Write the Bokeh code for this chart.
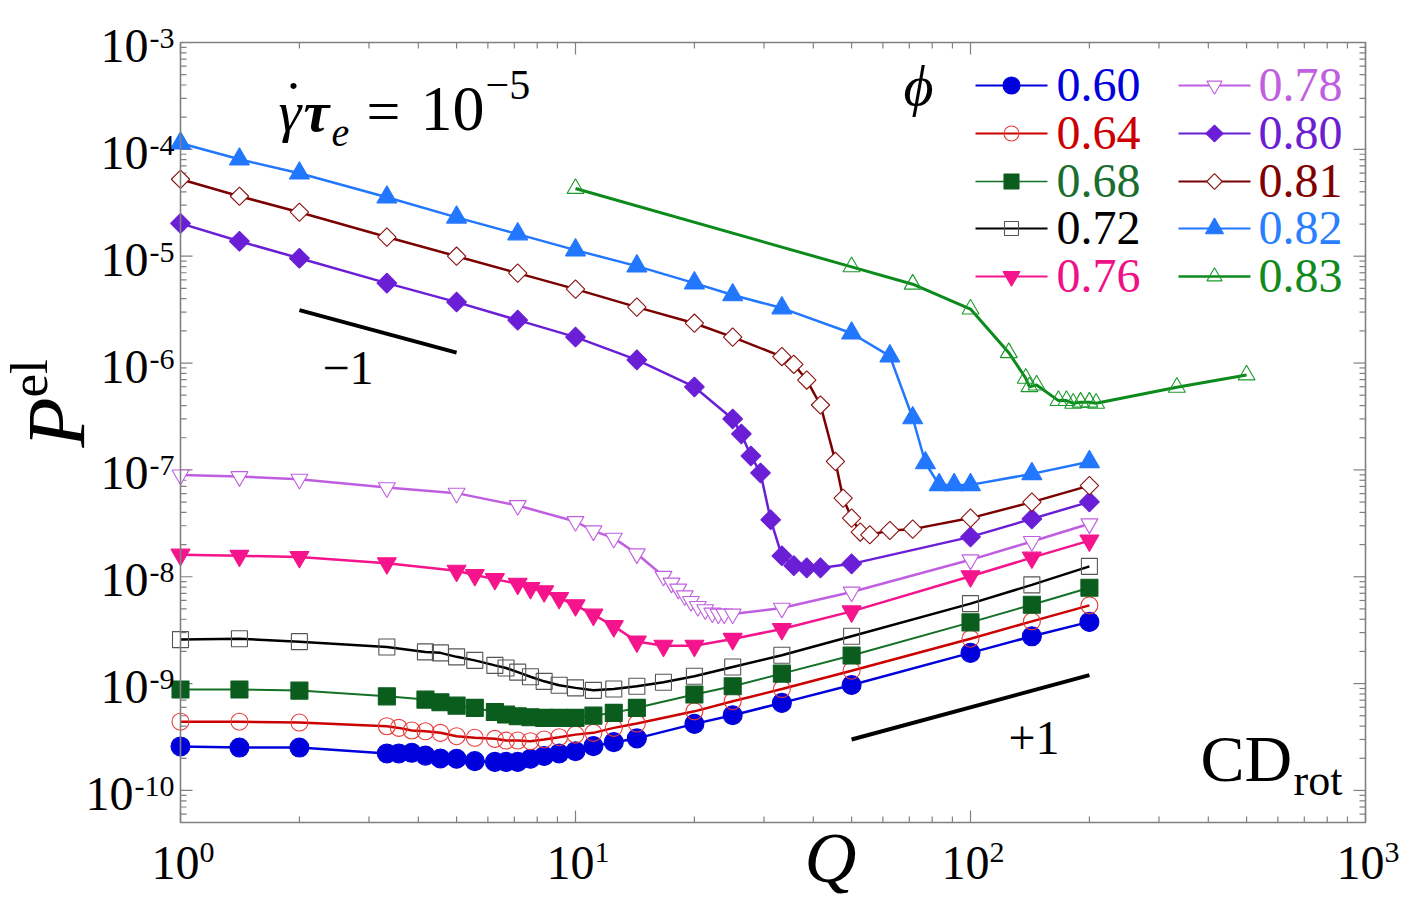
import math

from bokeh.embed import file_html
from bokeh.models import BoxAnnotation, Label, Range1d
from bokeh.plotting import figure
from bokeh.resources import INLINE

# ---------------------------------------------------------------- data
phi_labels = ["0.60", "0.64", "0.68", "0.72", "0.76", "0.78", "0.80", "0.81", "0.82", "0.83"]

q060 = [1, 1.41, 2, 3.33, 3.57, 3.85, 4.17, 4.55, 5, 5.56, 6.25, 6.67, 7.14, 7.69, 8.33,
        9.09, 10, 11.1, 12.5, 14.3, 20, 25, 33.3, 50, 100, 143, 200]
p060 = [2.58e-10, 2.52e-10, 2.52e-10, 2.22e-10, 2.22e-10, 2.25e-10, 2.12e-10, 1.99e-10,
        1.98e-10, 1.88e-10, 1.85e-10, 1.85e-10, 1.85e-10, 1.98e-10, 2.1e-10, 2.22e-10,
        2.33e-10, 2.6e-10, 2.83e-10, 3.07e-10, 4.2e-10, 5.06e-10, 6.6e-10, 9.7e-10,
        1.94e-9, 2.77e-9, 3.78e-9]

q064 = [1, 1.41, 2, 3.33, 3.57, 3.85, 4.17, 4.55, 5, 5.56, 6.25, 6.67, 7.14, 7.69, 8.33,
        9.09, 10, 11.1, 12.5, 14.3, 20, 25, 33.3, 50, 100, 143, 200]
p064 = [4.4e-10, 4.4e-10, 4.32e-10, 3.99e-10, 3.85e-10, 3.64e-10, 3.58e-10, 3.46e-10,
        3.22e-10, 3.11e-10, 3.04e-10, 2.93e-10, 2.93e-10, 2.89e-10, 3.0e-10, 3.15e-10,
        3.33e-10, 3.46e-10, 3.85e-10, 4.23e-10, 5.5e-10, 6.84e-10, 8.9e-10, 1.32e-9,
        2.63e-9, 3.82e-9, 5.4e-9]

q068 = [1, 1.41, 2, 3.33, 4.17, 4.55, 5, 5.56, 6.25, 6.67, 7.14, 7.69, 8.33, 9.09, 10,
        11.1, 12.5, 14.3, 20, 25, 33.3, 50, 100, 143, 200]
p068 = [8.8e-10, 8.8e-10, 8.6e-10, 7.6e-10, 7.08e-10, 6.68e-10, 6.22e-10, 5.93e-10,
        5.43e-10, 5.13e-10, 4.94e-10, 4.84e-10, 4.78e-10, 4.78e-10, 4.78e-10, 5.02e-10,
        5.32e-10, 5.93e-10, 7.9e-10, 9.44e-10, 1.24e-9, 1.83e-9, 3.74e-9, 5.47e-9, 7.89e-9]

q072 = [1, 1.41, 2, 3.33, 4.17, 4.55, 5, 5.56, 6.25, 6.67, 7.14, 7.69, 8.33, 9.09, 10,
        11.1, 12.5, 14.3, 16.7, 20, 25, 33.3, 50, 100, 143, 200]
p072 = [2.58e-9, 2.63e-9, 2.47e-9, 2.2e-9, 1.98e-9, 1.94e-9, 1.78e-9, 1.65e-9, 1.48e-9,
        1.40e-9, 1.28e-9, 1.16e-9, 1.05e-9, 9.64e-10, 9.12e-10, 8.65e-10, 8.9e-10,
        9.44e-10, 1.03e-9, 1.17e-9, 1.43e-9, 1.84e-9, 2.77e-9, 5.6e-9, 8.4e-9, 1.25e-8]

q076 = [1, 1.41, 2, 3.33, 5, 5.56, 6.25, 7.14, 7.69, 8.33, 9.09, 10, 11.1, 12.5, 14.3,
        16.7, 20, 25, 33.3, 50, 100, 143, 200]
p076 = [1.61e-8, 1.57e-8, 1.53e-8, 1.34e-8, 1.14e-8, 1.04e-8, 9.5e-9, 8.6e-9, 7.85e-9,
        7.3e-9, 6.33e-9, 5.4e-9, 4.42e-9, 3.45e-9, 2.48e-9, 2.26e-9, 2.26e-9, 2.62e-9,
        3.24e-9, 4.74e-9, 1.01e-8, 1.51e-8, 2.18e-8]

q078 = [1, 1.41, 2, 3.33, 5, 7.14, 10, 11.1, 12.5, 14.3, 16.7, 17.5, 18.2, 18.9, 19.6,
        20.4, 21.3, 22.2, 23, 23.8, 25, 33.3, 50, 100, 143, 200]
p078 = [8.97e-8, 8.66e-8, 8.19e-8, 6.83e-8, 6.06e-8, 4.64e-8, 3.29e-8, 2.69e-8, 2.3e-8,
        1.64e-8, 1.01e-8, 8.73e-9, 7.67e-9, 6.64e-9, 5.88e-9, 5.27e-9, 4.92e-9, 4.58e-9,
        4.48e-9, 4.48e-9, 4.48e-9, 5.09e-9, 7.2e-9, 1.44e-8, 2.14e-8, 3.13e-8]

q080 = [1, 1.41, 2, 3.33, 5, 7.14, 10, 14.3, 20, 25, 26.3, 27.8, 29.4, 31.2, 33.3, 35.7,
        38.5, 41.7, 50, 100, 143, 200]
p080 = [2.03e-5, 1.38e-5, 9.57e-6, 5.6e-6, 3.72e-6, 2.52e-6, 1.75e-6, 1.07e-6, 5.97e-7,
        3.0e-7, 2.17e-7, 1.35e-7, 9.37e-8, 3.41e-8, 1.57e-8, 1.27e-8, 1.21e-8, 1.21e-8,
        1.32e-8, 2.36e-8, 3.48e-8, 5.02e-8]

q081 = [1, 1.41, 2, 3.33, 5, 7.14, 10, 14.3, 20, 25, 33.3, 35.7, 38.5, 41.7, 45.5, 47.6,
        50, 52.6, 55.6, 62.5, 71.4, 100, 143, 200]
p081 = [5.25e-5, 3.64e-5, 2.58e-5, 1.51e-5, 1.0e-5, 6.94e-6, 4.92e-6, 3.34e-6, 2.36e-6,
        1.75e-6, 1.15e-6, 9.73e-7, 6.93e-7, 4.05e-7, 1.2e-7, 5.43e-8, 3.54e-8, 2.62e-8,
        2.47e-8, 2.71e-8, 2.79e-8, 3.54e-8, 4.99e-8, 7.13e-8]

q082 = [1, 1.41, 2, 3.33, 5, 7.14, 10, 14.3, 20, 25, 33.3, 50, 62.5, 71.4, 76.9, 83.3,
        90.9, 100, 143, 200]
p082 = [1.14e-4, 8.07e-5, 5.97e-5, 3.56e-5, 2.31e-5, 1.61e-5, 1.14e-5, 8.07e-6, 5.6e-6,
        4.33e-6, 3.27e-6, 1.9e-6, 1.16e-6, 3.06e-7, 1.16e-7, 7.24e-8, 7.24e-8, 7.24e-8,
        9.18e-8, 1.19e-7]

q083 = [10, 50, 71.4, 100, 125, 138, 141, 147, 167, 175, 182, 190, 200, 208, 333, 500]
p083 = [4.3e-5, 7.94e-6, 5.47e-6, 3.2e-6, 1.25e-6, 7.2e-7, 6.0e-7, 6.22e-7, 4.45e-7,
        4.45e-7, 4.2e-7, 4.3e-7, 4.3e-7, 4.2e-7, 5.93e-7, 7.73e-7]

# power-law guides (slopes -1 and +1)
guide_minus_q = [2, 5]
guide_minus_p = [3.13e-6, 1.25e-6]
guide_plus_q = [50, 200]
guide_plus_p = [3.0e-10, 1.2e-9]

x_major = [1, 10, 100, 1000]
x_major_exp = ["0", "1", "2", "3"]
y_major = [1e-10, 1e-9, 1e-8, 1e-7, 1e-6, 1e-5, 1e-4, 1e-3]
y_major_exp = ["-10", "-9", "-8", "-7", "-6", "-5", "-4", "-3"]

# ---------------------------------------------------------------- layout
W, H = 1413, 924
FL, FR, FT, FB = 180, 1365, 42, 822          # plot box on the canvas
X_LO, X_HI = 1.0, 1000.0
Y_LO, Y_HI = 10 ** -10.3, 1e-3
SERIF = "Liberation Serif"
GRAY = "#808080"
BASE_SHIFT = 0.365   # distance from label anchor to the glyph baseline, in em


def sx(px):
    """canvas pixel column -> data Q"""
    lo, hi = math.log10(X_LO), math.log10(X_HI)
    return 10 ** (lo + (px - FL) / (FR - FL) * (hi - lo))


def sy(py):
    """canvas pixel row -> data P"""
    lo, hi = math.log10(Y_LO), math.log10(Y_HI)
    return 10 ** (hi - (py - FT) / (FB - FT) * (hi - lo))


# the drawing frame spans the whole canvas; the plot box is drawn explicitly
p = figure(width=W, height=H, x_axis_type="log", y_axis_type="log",
           x_range=Range1d(sx(0), sx(W)), y_range=Range1d(sy(H), sy(0)),
           x_axis_location=None, y_axis_location=None, min_border=0,
           output_backend="svg", toolbar_location=None)
p.grid.visible = False
p.outline_line_color = None
p.background_fill_color = "white"
p.border_fill_color = "white"

p.add_layout(BoxAnnotation(left=X_LO, right=X_HI, bottom=Y_LO, top=Y_HI,
                           fill_alpha=0, line_color=GRAY, line_alpha=1.0, line_width=1.6))

x_minor = [m * 10 ** k for k in range(0, 3) for m in range(2, 10)]
y_minor = [m * 10.0 ** k for k in range(-11, -3) for m in range(2, 10)
           if Y_LO <= m * 10.0 ** k <= Y_HI]

# inward ticks on all four sides
tx0, ty0, tx1, ty1 = [], [], [], []
for vals, ln in ((x_major, 12), (x_minor, 6)):
    for xv in vals:
        tx0 += [xv, xv]
        tx1 += [xv, xv]
        ty0 += [Y_LO, Y_HI]
        ty1 += [sy(FB - ln), sy(FT + ln)]
for vals, ln in ((y_major, 12), (y_minor, 6)):
    for yv in vals:
        tx0 += [X_LO, X_HI]
        tx1 += [sx(FL + ln), sx(FR - ln)]
        ty0 += [yv, yv]
        ty1 += [yv, yv]
p.segment(tx0, ty0, tx1, ty1, line_color=GRAY, line_width=1.2)


def text(px, py, s, size, color="black", align="left", style="normal", angle=0.0):
    """Place a label by canvas pixel position of its baseline start."""
    shift = BASE_SHIFT * size
    if angle:
        px -= shift
    else:
        py -= shift
    p.add_layout(Label(x=px, y=H - py, x_units="screen", y_units="screen",
                       text=s, text_font=SERIF,
                       text_font_size=f"{size}px", text_color=color, text_align=align,
                       text_baseline="alphabetic", text_font_style=style, angle=angle))


# ---------------------------------------------------------------- series
series = [
    # label, q, p, line color, marker, size, fill, edge, angle, line width
    ("0.60", q060, p060, "#0000dd", "circle", 19, "#0000dd", "#0000dd", 0, 2.5),
    ("0.64", q064, p064, "#cc0000", "circle", 17, None, "#e83a3a", 0, 2.5),
    ("0.68", q068, p068, "#137026", "square", 17, "#0b5d1e", "#0b5d1e", 0, 2.0),
    ("0.72", q072, p072, "#000000", "square", 16, None, "#555555", 0, 2.5),
    ("0.76", q076, p076, "#f5148c", "inverted_triangle", 19, "#f5148c", "#f5148c", 0, 2.5),
    ("0.78", q078, p078, "#bf5fe0", "inverted_triangle", 17, "white", "#bf5fe0", 0, 2.5),
    ("0.80", q080, p080, "#6a1fd6", "square", 14, "#6a1fd6", "#6a1fd6", math.pi / 4, 2.5),
    ("0.81", q081, p081, "#7b0000", "square", 13, "white", "#8b1010", math.pi / 4, 2.5),
    ("0.82", q082, p082, "#2277ff", "triangle", 20, "#2277ff", "#2277ff", 0, 2.5),
    ("0.83", q083, p083, "#0c8a1c", "triangle", 17, None, "#1a9a2a", 0, 3.0),
]
text_colors = {"0.60": "#0000dd", "0.64": "#cc0000", "0.68": "#1a6e2e", "0.72": "#000000",
               "0.76": "#ee1188", "0.78": "#c060e0", "0.80": "#6a20d0", "0.81": "#800000",
               "0.82": "#2a7fff", "0.83": "#108a20"}


def draw(xs, ys, lc, mk, size, fill, edge, ang, lw):
    p.line(xs, ys, line_color=lc, line_width=lw)
    p.scatter(xs, ys, marker=mk, size=size, angle=ang,
              fill_color=fill, fill_alpha=0 if fill is None else 1,
              line_color=edge, line_width=1.1)


for lab, xs, ys, lc, mk, size, fill, edge, ang, lw in series:
    draw(xs, ys, lc, mk, size, fill, edge, ang, lw)

# power-law guides
p.line(guide_minus_q, guide_minus_p, line_color="black", line_width=4)
p.line(guide_plus_q, guide_plus_p, line_color="black", line_width=4)
text(322, 385, "\u22121", 48)
text(1008, 755, "+1", 48)

# ---------------------------------------------------------------- legend
rows = [85, 133, 181, 228, 276]
cols = [(975, 1047, 1011, 1056), (1178, 1250, 1214, 1258)]
for i, (lab, xs, ys, lc, mk, size, fill, edge, ang, lw) in enumerate(series):
    c0, c1, cm, ct = cols[i // 5]
    ry = rows[i % 5]
    p.line([sx(c0), sx(c1)], [sy(ry), sy(ry)], line_color=lc, line_width=lw - 0.5)
    p.scatter([sx(cm)], [sy(ry)], marker=mk, size=size - 2, angle=ang,
              fill_color=fill, fill_alpha=0 if fill is None else 1,
              line_color=edge, line_width=1.1)
    text(ct, ry + 17, lab, 48, color=text_colors[lab])
text(903, 106, "\u03d5", 58, style="italic")

# ---------------------------------------------------------------- annotations
text(278, 132, "\u03b3", 58, style="italic")
text(293, 122, "\u02d9", 58, align="center")
text(303, 132, "\u03c4", 58, style="bold italic")
text(331, 147, "e", 40, style="italic")
text(366, 132, "=", 60)
text(420, 132, "10", 64)
text(485, 100, "\u22125", 42)

text(1200, 782, "CD", 66)
text(1293, 796, "rot", 44)

# axis titles
text(830, 884, "Q", 72, align="center", style="italic")
text(86, 447, "P", 82, style="italic", angle=math.pi / 2)
text(48, 397, "el", 53, angle=math.pi / 2)

# tick labels as "10" with a raised exponent
for xv, e in zip(x_major, x_major_exp):
    px = FL + (math.log10(xv) - math.log10(X_LO)) / 3 * (FR - FL)
    text(px - 5, 880, "10", 48, align="center")
    text(px + 19, 863, e, 30)

for yv, e in zip(y_major, y_major_exp):
    py = FT + (math.log10(Y_HI) - math.log10(yv)) / (math.log10(Y_HI) - math.log10(Y_LO)) * (FB - FT)
    w_sup = 30 * (0.333 + 0.5 * (len(e) - 1))
    text(174, py + 7, e, 30, align="right")
    text(174 - w_sup - 1, py + 21, "10", 48, align="right")

open("out.html", "w").write(file_html(p, INLINE))
